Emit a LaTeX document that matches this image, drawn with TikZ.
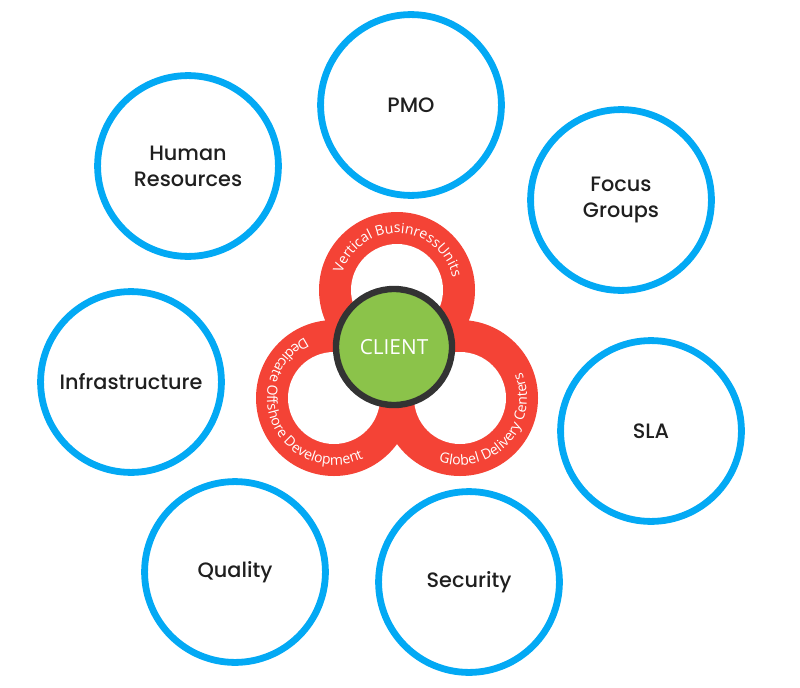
\documentclass[tikz,border=0pt]{standalone}
\usepackage{fontspec}
\usepackage{xcolor}
\usepackage{tikz}
\usetikzlibrary{decorations.text}

\newfontfamily\topicfont{Poppins}[UprightFont={* Medium}]
\newfontfamily\ringfont{Open Sans}

\definecolor{topicblue}{HTML}{03A9F4}
\definecolor{ringred}{HTML}{F44336}
\definecolor{clientgreen}{HTML}{8BC34A}
\definecolor{clientrim}{HTML}{333333}

\begin{document}
\begin{tikzpicture}[
    x=0.025cm, y=0.025cm,
    topic/.style={circle, draw=topicblue, line width=0.17cm, minimum size=4.52cm, align=center, text=black!88, font=\topicfont\fontsize{14.8}{18.5}\selectfont},
    hub/.style={circle, draw=clientrim, fill=clientgreen, line width=0.16cm, minimum size=2.9cm, text=white, font=\ringfont\fontsize{14.8}{16}\selectfont},
    ringtext/.style={decorate, decoration={text along path, text align=center, text={|\ringfont\fontsize{10}{12}\selectfont\color{white}|#1}}}
]
\useasboundingbox (0,0) rectangle (800,687);

% Outer ring of topics
\node[topic] at (411,582) (pmo) {PMO};
\node[topic] at (188,521) (hr) {Human\\Resources};
\node[topic] at (621,487) (focus) {Focus\\Groups};
\node[topic] at (131,305) (infra) {Infrastructure};
\node[topic] at (651,256) (sla) {SLA};
\node[topic] at (235,115) (quality) {Quality};
\node[topic] at (469,105) (security) {Security};

% Trefoil: three red rings
\coordinate (vbu) at (397,397);
\coordinate (odc) at (334,289);
\coordinate (gdc) at (460,289);
\fill[ringred] (vbu) circle (78) (odc) circle (78) (gdc) circle (78);
\fill[white] (vbu) circle (46) (odc) circle (46) (gdc) circle (46);

% Labels along the rings
\path[ringtext={Vertical BusinressUnits}] ([shift={(258:57)}]vbu) arc[start angle=258, end angle=-82, radius=57];
\path[ringtext={Dedicate Offshore Development}] ([shift={(36:67)}]odc) arc[start angle=36, end angle=376, radius=67];
\path[ringtext={Globel Delivery Centers}] ([shift={(147:67)}]gdc) arc[start angle=147, end angle=487, radius=67];

% Centre
\node[hub] at (394,340) (client) {CLIENT};

\end{tikzpicture}
\end{document}
